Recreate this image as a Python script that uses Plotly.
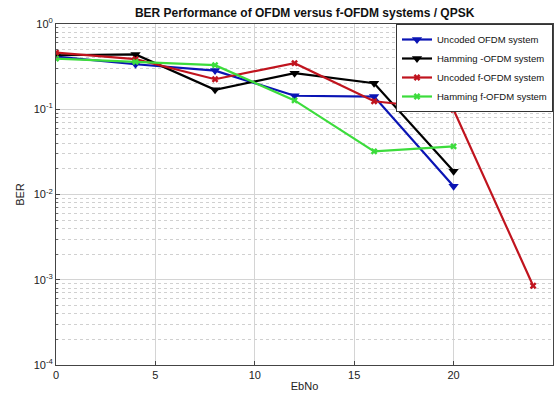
import plotly.graph_objects as go

ebno = [0, 4, 8, 12, 16, 20]
ebno_red = [0, 4, 8, 12, 16, 20, 24]
uncoded_ofdm = [0.415, 0.337, 0.284, 0.144, 0.141, 0.0125]
hamming_ofdm = [0.43, 0.44, 0.169, 0.265, 0.202, 0.0187]
uncoded_fofdm = [0.462, 0.387, 0.225, 0.347, 0.124, 0.0986, 0.00085]
hamming_fofdm = [0.393, 0.36, 0.329, 0.127, 0.0321, 0.0367]

ytick_vals = [1e-4, 1e-3, 1e-2, 1e-1, 1]
ytick_text = ["10<sup>-4</sup>", "10<sup>-3</sup>", "10<sup>-2</sup>", "10<sup>-1</sup>", "10<sup>0</sup>"]
xtick_vals = [0, 5, 10, 15, 20, 25]

fig = go.Figure()
fig.add_trace(go.Scatter(x=ebno, y=uncoded_ofdm, mode="lines+markers", name="Uncoded OFDM system",
                         line=dict(color="#0a14b4", width=2.2),
                         marker=dict(symbol="triangle-down", size=9, color="#0a14b4")))
fig.add_trace(go.Scatter(x=ebno, y=hamming_ofdm, mode="lines+markers", name="Hamming -OFDM system",
                         line=dict(color="#000000", width=2.2),
                         marker=dict(symbol="triangle-down", size=9, color="#000000")))
fig.add_trace(go.Scatter(x=ebno_red, y=uncoded_fofdm, mode="lines+markers", name="Uncoded f-OFDM system",
                         line=dict(color="#c0141e", width=2.2),
                         marker=dict(symbol="x", size=6, color="#c0141e")))
fig.add_trace(go.Scatter(x=ebno, y=hamming_fofdm, mode="lines+markers", name="Hamming f-OFDM system",
                         line=dict(color="#3cdc3c", width=2.2),
                         marker=dict(symbol="x", size=6, color="#3cdc3c")))

fig.update_layout(
    width=559, height=400,
    margin=dict(l=56, r=6, t=24, b=35),
    paper_bgcolor="white", plot_bgcolor="white",
    font=dict(family="Liberation Sans, Arial, sans-serif", size=11, color="#222"),
    title=dict(text="<b>BER Performance of OFDM versus f-OFDM systems / QPSK</b>",
               x=0.545, xanchor="center", y=0.968, yanchor="middle", font=dict(size=12, color="#111")),
    showlegend=True,
    legend=dict(x=1, y=1, xanchor="right", yanchor="top", bgcolor="white",
                bordercolor="#333", borderwidth=1, font=dict(size=9.5, color="#111"),
                tracegroupgap=0, itemwidth=30),
)
fig.update_xaxes(range=[0, 25], tickvals=xtick_vals, showgrid=True, gridcolor="#d4d4d4", gridwidth=1,
                 showline=True, mirror=True, linecolor="#444", linewidth=1, automargin=False,
                 ticks="inside", ticklen=4, tickcolor="#444", zeroline=False,
                 title=dict(text="EbNo", standoff=2, font=dict(size=11)))
fig.update_yaxes(type="log", range=[-4, 0], tickvals=ytick_vals, ticktext=ytick_text,
                 showgrid=True, gridcolor="#d4d4d4", gridwidth=1, automargin=False,
                 showline=True, mirror=True, linecolor="#444", linewidth=1,
                 ticks="inside", ticklen=4, tickcolor="#444", zeroline=False,
                 minor=dict(dtick="D1", showgrid=True, gridcolor="#d0d0d0", griddash="dot", gridwidth=1,
                            ticks="inside", ticklen=2, tickcolor="#666"),
                 title=dict(text="BER", standoff=6, font=dict(size=11)))

fig.write_html("out.html", config={"displayModeBar": False},
               post_script="document.body.style.margin='0';")
